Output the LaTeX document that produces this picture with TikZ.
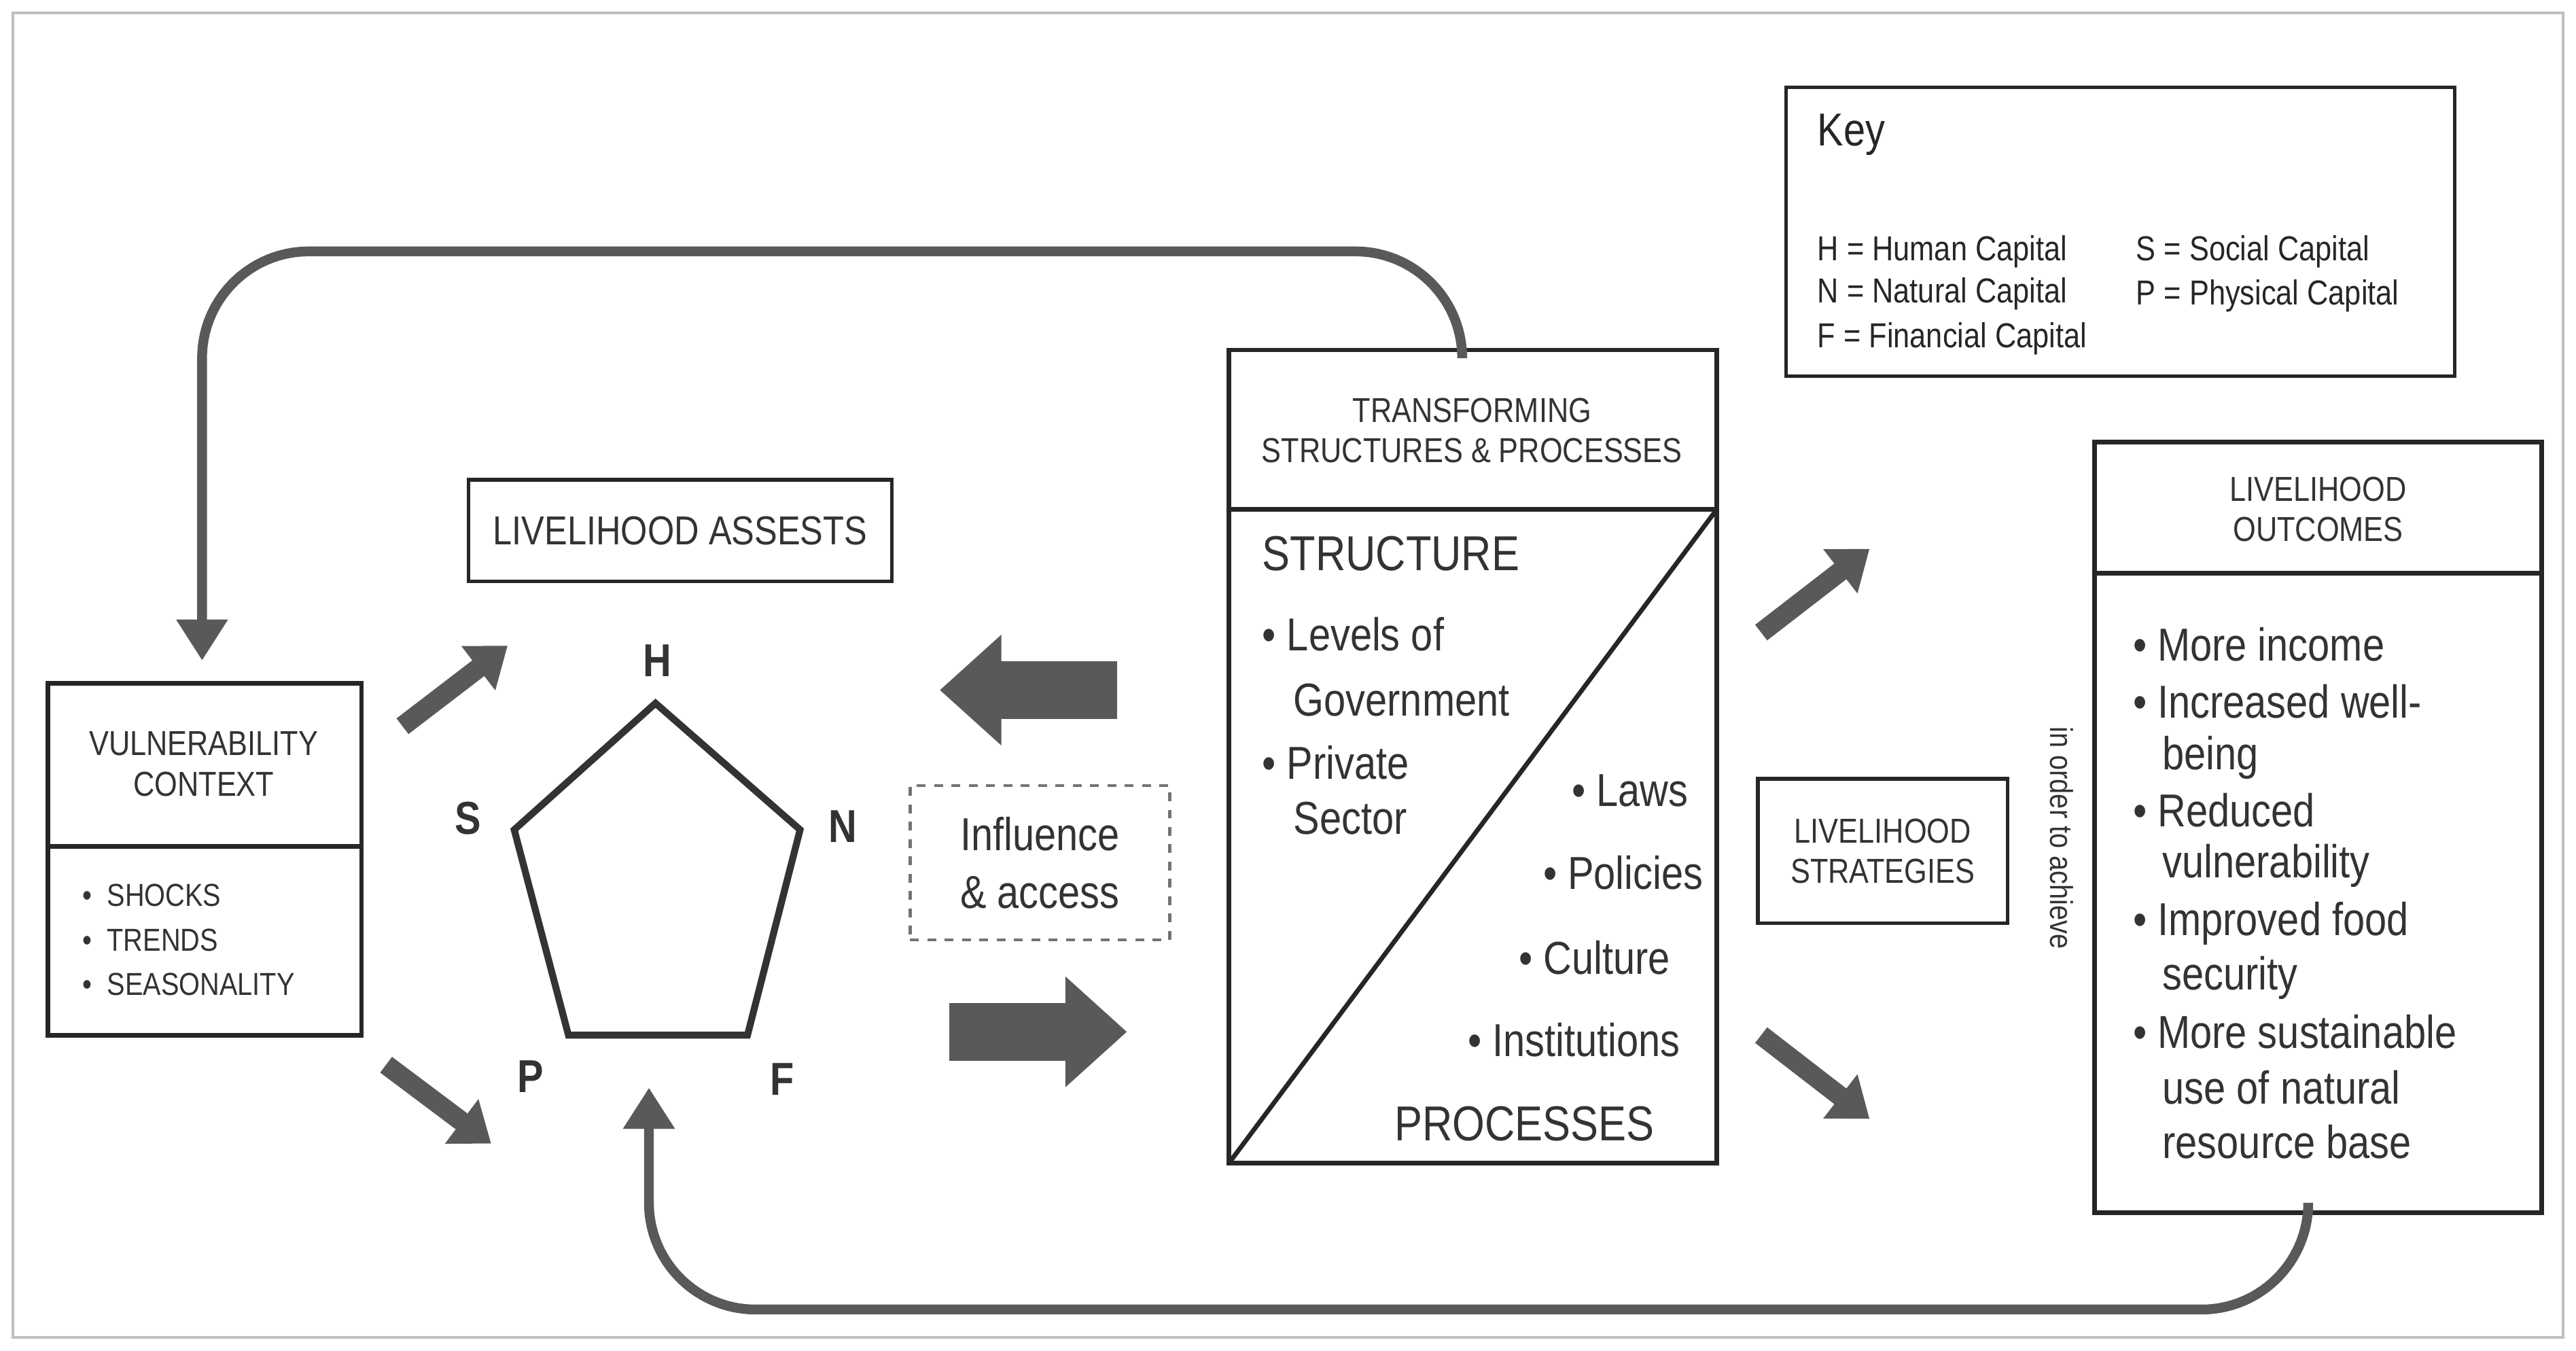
\documentclass[tikz,border=0pt]{standalone}
\usepackage{fontspec}
\setmainfont{Liberation Sans}[FakeStretch=0.85]
\usetikzlibrary{fit,arrows.meta}
\begin{document}
\begin{tikzpicture}[x=0.02cm,y=-0.02cm,
  box/.style={draw=black!85,line width=1.6pt,inner sep=0pt},
  hd/.style={font=\fontsize{11}{13}\selectfont,align=center,text=black!80},
  bt/.style={font=\fontsize{16}{18}\selectfont,anchor=west,text=black!80,inner sep=0pt},
  sb/.style={font=\fontsize{11}{13}\selectfont,anchor=west,text=black!80,inner sep=0pt},
  kt/.style={font=\fontsize{12}{14}\selectfont,anchor=west,text=black!85,inner sep=0pt},
  lab/.style={font=\fontsize{16}{18}\selectfont\bfseries,text=black!80},
  fat/.style={line width=0.7cm,draw=black!65,-{Triangle[width=1.3cm,length=0.75cm]}},
  sm/.style={line width=0.24cm,draw=black!65,-{Triangle[width=0.65cm,length=0.45cm]}},
  loop/.style={line width=3.4pt,draw=black!65,rounded corners=1.3cm}]
\useasboundingbox (0,0) rectangle (1568,822);
\node[draw=black!25,line width=1pt,inner sep=0pt,fit={(8,8)(1560,814)}] (frame) {};
% key
\node[box,line width=1.2pt,fit={(1087,53)(1494,229)}] (key) {};
\node[kt,font=\fontsize{16}{18}\selectfont] (keyt) at (1106,82) {Key};
\node[kt] (k1) at (1106,153) {H = Human Capital};
\node[kt] (k2) at (1106,179) {N = Natural Capital};
\node[kt] (k3) at (1106,206) {F = Financial Capital};
\node[kt] (k4) at (1300,153) {S = Social Capital};
\node[kt] (k5) at (1300,180) {P = Physical Capital};
% transforming
\node[box,fit={(748,213)(1045,708)}] (trans) {};
\coordinate (td1) at (748,310); \coordinate (td2) at (1045,310);
\draw[line width=1.6pt,black!85] (td1) -- (td2);
\coordinate (dg1) at (748,708);
\draw[line width=1.6pt,black!85] (dg1) -- (td2);
\node[hd,font=\fontsize{12}{14}\selectfont] (tht) at (896,262) {TRANSFORMING\\STRUCTURES \& PROCESSES};
\node[bt,font=\fontsize{17}{19}\selectfont] (st) at (768,337) {STRUCTURE};
\node[bt] (s1) at (768,386) {• Levels of};
\node[bt] (s2) at (787,426) {Government};
\node[bt] (s3) at (768,464) {• Private};
\node[bt] (s4) at (787,498) {Sector};
\node[bt,anchor=east] (p1) at (1028,481) {• Laws};
\node[bt,anchor=east] (p2) at (1037,531) {• Policies};
\node[bt,anchor=east] (p3) at (1017,583) {• Culture};
\node[bt,anchor=east] (p4) at (1023,633) {• Institutions};
\node[bt,anchor=center,font=\fontsize{17}{19}\selectfont] (pr) at (928,684) {PROCESSES};
% livelihood assets
\node[box,line width=1.2pt,fit={(285,292)(543,354)}] (la) {};
\node[hd,font=\fontsize{14}{16}\selectfont] at (la.center) {LIVELIHOOD ASSESTS};
% pentagon
\coordinate (pH) at (399,428); \coordinate (pN) at (487,505); \coordinate (pF) at (455,630);
\coordinate (pP) at (346,630); \coordinate (pS) at (313,505);
\draw[line width=2.4pt,black!80] (pH) -- (pN) -- (pF) -- (pP) -- (pS) -- cycle;
\node[lab] (lH) at (400,402) {H};
\node[lab] (lN) at (513,503) {N};
\node[lab] (lF) at (476,657) {F};
\node[lab] (lP) at (323,655) {P};
\node[lab] (lS) at (285,498) {S};
% vulnerability
\node[box,fit={(29,416)(220,630)}] (vul) {};
\coordinate (vd1) at (29,515); \coordinate (vd2) at (220,515);
\draw[line width=1.6pt,black!85] (vd1) -- (vd2);
\node[hd,font=\fontsize{12}{14}\selectfont] (vt) at (124,465) {VULNERABILITY\\CONTEXT};
\node[sb] (v1) at (50,545) {•\ \ SHOCKS};
\node[sb] (v2) at (50,572) {•\ \ TRENDS};
\node[sb] (v3) at (50,599) {•\ \ SEASONALITY};
% influence
\node[draw=black!55,dashed,line width=1pt,inner sep=0pt,fit={(554,478)(712,572)}] (inf) {};
\node[hd,font=\fontsize{16}{20}\selectfont] at (inf.center) {Influence\\\& access};
% strategies
\node[box,line width=1.2pt,fit={(1070,474)(1222,562)}] (ls) {};
\node[hd,font=\fontsize{12}{14}\selectfont] at (ls.center) {LIVELIHOOD\\STRATEGIES};
\node[hd,rotate=-90,font=\fontsize{11}{13}\selectfont] (ach) at (1255,510) {in order to achieve};
% outcomes
\node[box,fit={(1275,269)(1547,738)}] (out) {};
\coordinate (od1) at (1275,349); \coordinate (od2) at (1547,349);
\draw[line width=1.6pt,black!85] (od1) -- (od2);
\node[hd,font=\fontsize{12}{14}\selectfont] (oh) at (1411,310) {LIVELIHOOD\\OUTCOMES};
\node[bt] (o1) at (1298,392) {• More income};
\node[bt] (o2) at (1298,427) {• Increased well-};
\node[bt] (o3) at (1316,461) {being};
\node[bt] (o4) at (1298,493) {• Reduced};
\node[bt] (o5) at (1316,527) {vulnerability};
\node[bt] (o6) at (1298,562) {• Improved food};
\node[bt] (o7) at (1316,595) {security};
\node[bt] (o8) at (1298,628) {• More sustainable};
\node[bt] (o9) at (1316,662) {use of natural};
\node[bt] (o10) at (1316,695) {resource base};
% fat arrows
\coordinate (fa1) at (680,420); \coordinate (fa2) at (572,420);
\draw[fat] (fa1) -- (fa2);
\coordinate (fb1) at (578,628); \coordinate (fb2) at (686,628);
\draw[fat] (fb1) -- (fb2);
% small arrows
\coordinate (a1) at (245,442); \coordinate (a2) at (309,393);
\coordinate (b1) at (235,648); \coordinate (b2) at (299,696);
\coordinate (c1) at (1072,385); \coordinate (c2) at (1138,334);
\coordinate (d1) at (1072,630); \coordinate (d2) at (1138,681);
\draw[sm] (a1) -- (a2); \draw[sm] (b1) -- (b2);
\draw[sm] (c1) -- (c2); \draw[sm] (d1) -- (d2);
% loops
\coordinate (tl1) at (890,213);
\coordinate (vtop) at (123,402);
\draw[loop,-{Triangle[width=0.6cm,length=0.5cm]}] (tl1) -- (890,153) -- (123,153) -- (vtop);
\coordinate (ob) at (1405,738);
\coordinate (pb) at (395,662);
\draw[loop,-{Triangle[width=0.6cm,length=0.5cm]}] (ob) -- (1405,797) -- (395,797) -- (pb);
\end{tikzpicture}
\end{document}
